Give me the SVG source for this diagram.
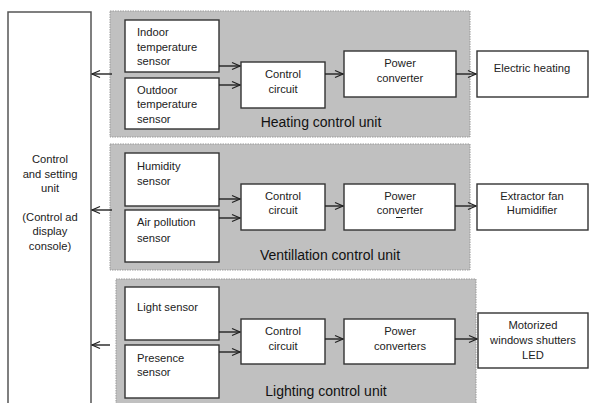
<svg xmlns="http://www.w3.org/2000/svg" width="590" height="403" viewBox="0 0 590 403">
<defs>
<marker id="ah" markerWidth="10" markerHeight="10" refX="9" refY="5" orient="auto" markerUnits="userSpaceOnUse">
<path d="M1,1.5 L9,5 L1,8.5" fill="none" stroke="#222" stroke-width="1.3"/>
</marker>
</defs>
<style>
.panel{fill:#c0c0c0;stroke:#999;stroke-width:1;stroke-dasharray:1.5 1}
.box{fill:#fff;stroke:#333;stroke-width:1.4}
.t{font-family:"Liberation Sans",Arial,sans-serif;font-size:11.2px;fill:#222}
.c{text-anchor:middle}
.pl{font-family:"Liberation Sans",Arial,sans-serif;font-size:14px;fill:#111;text-anchor:middle}
.ln{stroke:#222;stroke-width:1.4;fill:none;marker-end:url(#ah)}
</style>
<rect width="590" height="403" fill="#fff"/>
<g id="control-setting-unit">
<rect x="8" y="12" width="83" height="400" fill="#fff" stroke="#555" stroke-width="1.5"/>
<text class="t c" x="50" y="163">Control</text>
<text class="t c" x="50" y="178">and setting</text>
<text class="t c" x="50" y="192">unit</text>
<text class="t c" x="50" y="221">(Control ad</text>
<text class="t c" x="50" y="235">display</text>
<text class="t c" x="50" y="250">console)</text>
</g>
<g id="heating-panel">
<rect class="panel" x="110" y="11" width="360" height="126"/>
<text class="pl" x="321" y="127">Heating control unit</text>
</g>
<g id="ventilation-panel">
<rect class="panel" x="110" y="144" width="360" height="126"/>
<text class="pl" x="330" y="260">Ventillation control unit</text>
</g>
<g id="lighting-panel">
<rect class="panel" x="116" y="279" width="360" height="130"/>
<text class="pl" x="326" y="396">Lighting control unit</text>
</g>
<g id="indoor-sensor">
<rect class="box" x="125" y="20" width="94" height="52"/>
<text class="t" x="137" y="36">Indoor</text>
<text class="t" x="137" y="51">temperature</text>
<text class="t" x="137" y="65">sensor</text>
</g>
<g id="outdoor-sensor">
<rect class="box" x="125" y="78" width="94" height="51"/>
<text class="t" x="137" y="94">Outdoor</text>
<text class="t" x="137" y="108">temperature</text>
<text class="t" x="137" y="123">sensor</text>
</g>
<g id="heating-control-circuit">
<rect class="box" x="241" y="62" width="84" height="46"/>
<text class="t c" x="283" y="78">Control</text>
<text class="t c" x="283" y="93">circuit</text>
</g>
<g id="heating-power-converter">
<rect class="box" x="344" y="51" width="112" height="46"/>
<text class="t c" x="400" y="67">Power</text>
<text class="t c" x="400" y="82">converter</text>
</g>
<g id="electric-heating">
<rect class="box" x="477" y="51" width="111" height="46"/>
<text class="t c" x="532" y="72">Electric heating</text>
</g>
<g id="humidity-sensor">
<rect class="box" x="125" y="153" width="94" height="53"/>
<text class="t" x="137" y="170">Humidity</text>
<text class="t" x="137" y="185">sensor</text>
</g>
<g id="air-pollution-sensor">
<rect class="box" x="125" y="210" width="94" height="52"/>
<text class="t" x="137" y="226">Air pollution</text>
<text class="t" x="137" y="242">sensor</text>
</g>
<g id="ventilation-control-circuit">
<rect class="box" x="241" y="184" width="84" height="46"/>
<text class="t c" x="283" y="200">Control</text>
<text class="t c" x="283" y="214">circuit</text>
</g>
<g id="ventilation-power-converter">
<rect class="box" x="344" y="184" width="111" height="46"/>
<text class="t c" x="400" y="200">Power</text>
<text class="t c" x="400" y="214">converter</text>
<line x1="396" y1="217.5" x2="403" y2="217.5" stroke="#222" stroke-width="1"/>
</g>
<g id="extractor-fan">
<rect class="box" x="477" y="184" width="111" height="46"/>
<text class="t c" x="532" y="200">Extractor fan</text>
<text class="t c" x="532" y="214">Humidifier</text>
</g>
<g id="light-sensor">
<rect class="box" x="125" y="287" width="94" height="53"/>
<text class="t" x="137" y="311">Light sensor</text>
</g>
<g id="presence-sensor">
<rect class="box" x="125" y="345" width="94" height="53"/>
<text class="t" x="137" y="362">Presence</text>
<text class="t" x="137" y="376">sensor</text>
</g>
<g id="lighting-control-circuit">
<rect class="box" x="241" y="319" width="84" height="45"/>
<text class="t c" x="283" y="335">Control</text>
<text class="t c" x="283" y="350">circuit</text>
</g>
<g id="lighting-power-converters">
<rect class="box" x="344" y="319" width="111" height="45"/>
<text class="t c" x="400" y="335">Power</text>
<text class="t c" x="400" y="350">converters</text>
</g>
<g id="motorized-shutters-led">
<rect class="box" x="478" y="313" width="110" height="55"/>
<text class="t c" x="533" y="329">Motorized</text>
<text class="t c" x="533" y="344">windows shutters</text>
<text class="t c" x="533" y="359">LED</text>
</g>
<g id="connectors">
<line class="ln" x1="219" y1="66" x2="240" y2="66"/>
<line class="ln" x1="219" y1="85" x2="240" y2="85"/>
<line class="ln" x1="325" y1="74" x2="343" y2="74"/>
<line class="ln" x1="456" y1="74" x2="476" y2="74"/>
<line class="ln" x1="112" y1="74" x2="92" y2="74"/>
<line class="ln" x1="219" y1="199" x2="240" y2="199"/>
<line class="ln" x1="219" y1="218" x2="240" y2="218"/>
<line class="ln" x1="325" y1="206" x2="343" y2="206"/>
<line class="ln" x1="455" y1="206" x2="476" y2="206"/>
<line class="ln" x1="112" y1="210" x2="92" y2="210"/>
<line class="ln" x1="219" y1="332" x2="240" y2="332"/>
<line class="ln" x1="219" y1="352" x2="240" y2="352"/>
<line class="ln" x1="325" y1="339" x2="343" y2="339"/>
<line class="ln" x1="455" y1="339" x2="477" y2="339"/>
<line class="ln" x1="110" y1="345" x2="92" y2="345"/>
</g>
</svg>
